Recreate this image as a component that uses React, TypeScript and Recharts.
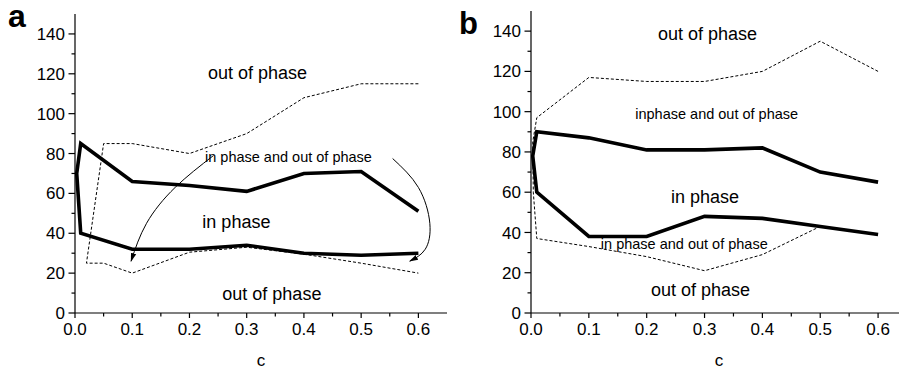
import { Line, LineChart, ReferenceDot, XAxis, YAxis } from "recharts";

const FONT = '"Liberation Sans", Arial, Helvetica, sans-serif';

// axis ticks (minor ticks get no label)
const cTicks = [0, 0.05, 0.1, 0.15, 0.2, 0.25, 0.3, 0.35, 0.4, 0.45, 0.5, 0.55, 0.6];
const yTicks = [0, 10, 20, 30, 40, 50, 60, 70, 80, 90, 100, 110, 120, 130, 140];

// panel a: [c, value]
const aPhaseBoundary = [
  [0.6, 51], [0.5, 71], [0.4, 70], [0.3, 61], [0.2, 64], [0.1, 66], [0.01, 85],
  [0.003, 70], [0.01, 40], [0.1, 32], [0.2, 32], [0.3, 34], [0.4, 30], [0.5, 29], [0.6, 30],
];
const aMixedBoundary = [
  [0.6, 115], [0.5, 115], [0.4, 108], [0.3, 90], [0.2, 80], [0.1, 85], [0.05, 85],
  [0.02, 25], [0.05, 25], [0.1, 20], [0.2, 30.5], [0.3, 33], [0.4, 29.5], [0.5, 25], [0.6, 20],
];
const aArrowLeft = [[0.242, 79], [0.175, 63], [0.125, 45], [0.098, 26]];
const aArrowRight = [[0.555, 77.5], [0.6, 63], [0.62, 45], [0.612, 32], [0.585, 26]];
const aLabels = [
  { text: "out of phase", c: 0.319, v: 120.5 },
  { text: "in phase", c: 0.282, v: 46 },
  { text: "out of phase", c: 0.344, v: 9.5 },
];
const aSmallLabels = [{ text: "in phase and out of phase", c: 0.373, v: 78.5 }];

// panel b
const bPhaseBoundary = [
  [0.6, 65], [0.5, 70], [0.4, 82], [0.3, 81], [0.2, 81], [0.1, 87], [0.01, 90],
  [0.003, 78], [0.01, 60], [0.1, 38], [0.2, 38], [0.3, 48], [0.4, 47], [0.5, 43], [0.6, 39],
];
const bMixedBoundary = [
  [0.6, 120], [0.5, 135], [0.4, 120], [0.3, 115], [0.2, 115], [0.1, 117], [0.01, 97],
  [0.003, 85], [0.004, 60], [0.01, 37], [0.1, 33], [0.2, 28], [0.3, 21], [0.4, 29], [0.5, 43],
];
const bLabels = [
  { text: "out of phase", c: 0.305, v: 139 },
  { text: "in phase", c: 0.301, v: 58 },
  { text: "out of phase", c: 0.293, v: 11.5 },
];
const bSmallLabels = [
  { text: "inphase and out of phase", c: 0.321, v: 99 },
  { text: "in phase and out of phase", c: 0.265, v: 34.5 },
];

const toPoints = (pts: number[][]) => pts.map(([c, v]) => ({ c, v }));

const TICK_SIZE = 6;
const TICK_MARGIN = 4;

const isMajor = (v: number, step: number) => Math.abs(v / step - Math.round(v / step)) < 1e-6;

function YTick(props: any) {
  const { x, y, payload } = props;
  const axisX = x + TICK_MARGIN + TICK_SIZE;
  const major = isMajor(payload.value, 20);
  return (
    <g>
      <line x1={axisX - (major ? 6.5 : 3.5)} x2={axisX} y1={y} y2={y} stroke="#000" strokeWidth={1.2} />
      {major && (
        <text x={x} y={y} dy="0.355em" textAnchor="end" fontSize={17} fontFamily={FONT} fill="#000">
          {payload.value}
        </text>
      )}
    </g>
  );
}

function XTick(props: any) {
  const { x, y, payload } = props;
  const axisY = y - TICK_MARGIN - TICK_SIZE;
  const major = isMajor(payload.value, 0.1);
  return (
    <g>
      <line x1={x} x2={x} y1={axisY} y2={axisY + (major ? 5 : 3.5)} stroke="#000" strokeWidth={1.2} />
      {major && (
        <text x={x} y={y} dy="0.71em" textAnchor="middle" fontSize={17} fontFamily={FONT} fill="#000">
          {payload.value.toFixed(1)}
        </text>
      )}
    </g>
  );
}

function Panel({ id, width, top, right, boundary, mixed, arrows, labels, smallLabels }: any) {
  return (
    <LineChart width={width} height={370} margin={{ top, right, bottom: 0, left: 0 }}>
      <defs>
        <marker
          id={`arrow-${id}`}
          viewBox="0 0 10 10"
          refX="9"
          refY="5"
          markerWidth="9"
          markerHeight="9"
          markerUnits="userSpaceOnUse"
          orient="auto"
        >
          <path d="M0,2 L10,5 L0,8 z" fill="#000" />
        </marker>
      </defs>
      <XAxis
        dataKey="c"
        type="number"
        domain={[0, 0.65]}
        ticks={cTicks}
        interval={0}
        height={57}
        tickSize={TICK_SIZE}
        tickMargin={TICK_MARGIN}
        tickLine={false}
        tick={<XTick />}
        axisLine={{ stroke: "#000", strokeWidth: 1.2 }}
        label={{ value: "c", position: "insideBottom", offset: 4, fill: "#000", fontSize: 17, fontFamily: FONT }}
      />
      <YAxis
        dataKey="v"
        type="number"
        domain={[0, 150]}
        ticks={yTicks}
        interval={0}
        width={75}
        tickSize={TICK_SIZE}
        tickMargin={TICK_MARGIN}
        tickLine={false}
        tick={<YTick />}
        axisLine={{ stroke: "#000", strokeWidth: 1.2 }}
      />
      <Line
        data={toPoints(mixed)}
        dataKey="v"
        type="linear"
        stroke="#000"
        strokeWidth={1}
        strokeDasharray="3 2"
        dot={false}
        activeDot={false}
        isAnimationActive={false}
      />
      <Line
        data={toPoints(boundary)}
        dataKey="v"
        type="linear"
        stroke="#000"
        strokeWidth={3.6}
        dot={false}
        activeDot={false}
        isAnimationActive={false}
      />
      {arrows.map((a: number[][], i: number) => (
        <Line
          key={`arrow-${i}`}
          data={toPoints(a)}
          dataKey="v"
          type="natural"
          stroke="#000"
          strokeWidth={1}
          markerEnd={`url(#arrow-${id})`}
          dot={false}
          activeDot={false}
          isAnimationActive={false}
        />
      ))}
      {labels.map((l: any, i: number) => (
        <ReferenceDot
          key={`lab-${i}`}
          x={l.c}
          y={l.v}
          r={0}
          fill="none"
          stroke="none"
          label={{ value: l.text, position: "center", fill: "#000", fontSize: 18, fontFamily: FONT }}
        />
      ))}
      {smallLabels.map((l: any, i: number) => (
        <ReferenceDot
          key={`slab-${i}`}
          x={l.c}
          y={l.v}
          r={0}
          fill="none"
          stroke="none"
          label={{ value: l.text, position: "center", fill: "#000", fontSize: 14.5, fontFamily: FONT }}
        />
      ))}
    </LineChart>
  );
}

export default function App() {
  return (
    <div style={{ position: "relative", width: 899, height: 370, overflow: "hidden", background: "#fff" }}>
      <style>{"body{margin:0}"}</style>
      <div style={{ position: "absolute", left: 0, top: 0 }}>
        <Panel
          id="a"
          width={452}
          top={14}
          right={5}
          boundary={aPhaseBoundary}
          mixed={aMixedBoundary}
          arrows={[aArrowLeft, aArrowRight]}
          labels={aLabels}
          smallLabels={aSmallLabels}
        />
      </div>
      <div style={{ position: "absolute", left: 456, top: 0 }}>
        <Panel
          id="b"
          width={453}
          top={11}
          right={2}
          boundary={bPhaseBoundary}
          mixed={bMixedBoundary}
          arrows={[]}
          labels={bLabels}
          smallLabels={bSmallLabels}
        />
      </div>
      <svg width={899} height={370} style={{ position: "absolute", left: 0, top: 0, pointerEvents: "none" }}>
        <text x={8} y={27} fontSize={32} fontWeight="bold" fontFamily={FONT} fill="#000">
          a
        </text>
        <text x={459} y={34} fontSize={31} fontWeight="bold" fontFamily={FONT} fill="#000">
          b
        </text>
      </svg>
    </div>
  );
}
